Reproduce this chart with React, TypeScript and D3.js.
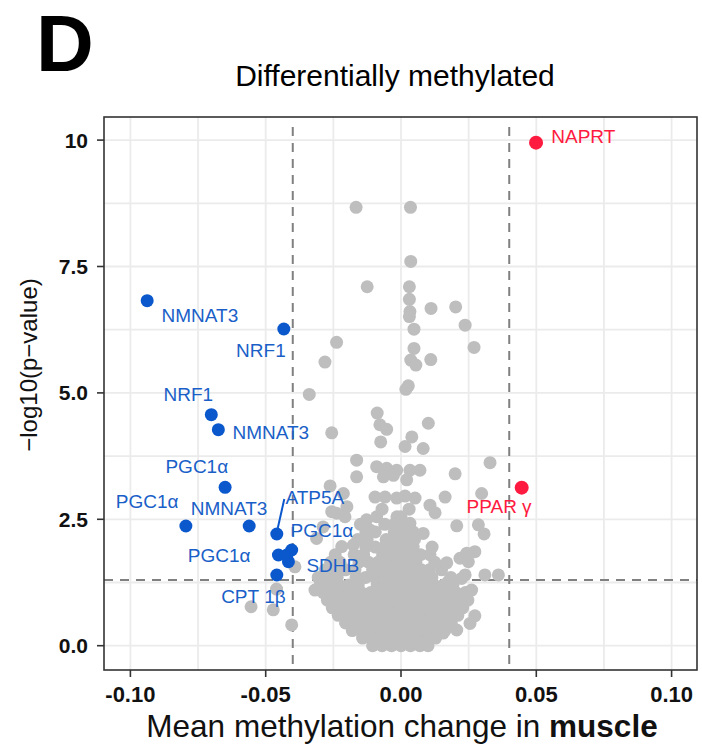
import React from "react";
import * as d3 from "d3";

// ---------- data ----------
const xTicks = [-0.1, -0.05, 0, 0.05, 0.1];
const xTickLabels = ["-0.10", "-0.05", "0.00", "0.05", "0.10"];
const yTicks = [0, 2.5, 5, 7.5, 10];
const yTickLabels = ["0.0", "2.5", "5.0", "7.5", "10"];
const xGrid = [-0.1, -0.075, -0.05, -0.025, 0, 0.025, 0.05, 0.075, 0.1];
const yGrid = [0, 1.25, 2.5, 3.75, 5, 6.25, 7.5, 8.75, 10];
const effectCutoffs = [-0.04, 0.04];
const pCutoff = 1.301;

// hypomethylated, significant (blue)
const downGenes = ["NMNAT3", "NRF1", "NRF1", "NMNAT3", "PGC1α", "PGC1α", "NMNAT3", "ATP5A", "PGC1α", "PGC1α", "SDHB", "", "CPT1β"];
const downX = [-0.0938, -0.0433, -0.0701, -0.0675, -0.065, -0.0795, -0.0561, -0.0459, -0.0453, -0.0404, -0.0416, -0.0422, -0.0459];
const downY = [6.824, 6.264, 4.569, 4.272, 3.133, 2.367, 2.367, 2.209, 1.794, 1.893, 1.661, 1.794, 1.398];

// hypermethylated, significant (red)
const upGenes = ["NAPRT", "PPARγ"];
const upX = [0.0499, 0.0446];
const upY = [9.95, 3.126];

// not significant (grey): scattered points
const scatterX = [
  -0.0166, 0.0035, 0.0036, -0.0125, 0.0031, 0.0031, 0.0033, 0.0031, 0.0111, 0.0202, 0.0237, 0.0048, 0.027, 0.0048, 0.0036, 0.0055, 0.011, 0.0027, 0.0018, -0.0238, -0.0281, -0.0339,
  -0.0088, -0.0078, -0.0053, -0.0256, 0.0101, 0.004, -0.0075, 0.0015, 0.0082, -0.0164, 0.0329, -0.009, -0.0053, -0.0016, 0.0033, 0.007, -0.0065, -0.0028, 0.0021, -0.0164, 0.02, -0.0262, 0.0298, 0.0163, -0.0213, -0.0096, -0.0059, -0.0016, 0.0015, 0.0052, 0.0107, 0.0126, -0.02, -0.0238, -0.0207, -0.0256, -0.0288, -0.0127, -0.0115, -0.0312, 0.0, 0.0033, 0.0082, 0.0206, 0.0286, 0.0307, -0.0219, -0.0176,
  0.0169, 0.0218, 0.0249, 0.0243, 0.0273, 0.0237, 0.0224, 0.031, 0.036, 0.0175, 0.0261, 0.023, 0.0243, 0.0273, 0.0255, 0.0206, 0.0156,
  -0.0392, -0.0318, -0.0404, -0.0472, -0.0554, -0.046,
];
const scatterY = [
  8.67, 8.67, 7.6, 7.1, 7.1, 6.85, 6.61, 6.51, 6.67, 6.7, 6.34, 6.26, 5.9, 5.88, 5.65, 5.55, 5.66, 5.14, 5.07, 6.0, 5.61, 4.97,
  4.6, 4.37, 4.28, 4.21, 4.4, 4.13, 4.03, 3.94, 3.9, 3.67, 3.62, 3.54, 3.51, 3.47, 3.47, 3.47, 3.34, 3.37, 3.28, 3.34, 3.4, 3.16, 3.01, 2.94, 3.01, 2.94, 2.94, 2.92, 2.96, 2.92, 2.78, 2.63, 2.75, 2.62, 2.55, 2.65, 2.35, 2.49, 2.29, 2.12, 2.55, 2.42, 2.22, 2.37, 2.39, 2.21, 1.96, 1.99,
  1.64, 1.73, 1.66, 1.83, 1.86, 1.4, 1.33, 1.4, 1.4, 1.27, 1.1, 1.0, 1.04, 0.59, 0.44, 0.31, 0.25,
  1.56, 1.1, 0.41, 0.71, 0.77, 1.12,
];

// not significant (grey): dense core, row by row
const coreRowY = [0.0, 0.15, 0.3, 0.45, 0.6, 0.75, 0.9, 1.05, 1.2, 1.35, 1.5, 1.65, 1.8, 1.95, 2.1, 2.25, 2.4, 2.55, 2.7];
const coreRowX = [
  [-0.0105, -0.007, -0.0035, 0.0, 0.0035, 0.007, 0.01],
  [-0.0142, -0.0108, -0.0073, -0.0038, -0.0003, 0.0032, 0.0067, 0.0098, 0.0128],
  [-0.018, -0.0145, -0.011, -0.0075, -0.004, -0.0005, 0.003, 0.0065, 0.01, 0.0132, 0.0162],
  [-0.0205, -0.017, -0.0135, -0.01, -0.0065, -0.003, 0.0005, 0.004, 0.0075, 0.011, 0.0145, 0.0186],
  [-0.0232, -0.0197, -0.0162, -0.0127, -0.0092, -0.0057, -0.0022, 0.0013, 0.0048, 0.0083, 0.0118, 0.0153, 0.0188, 0.021],
  [-0.0254, -0.0219, -0.0184, -0.0149, -0.0114, -0.0079, -0.0044, -0.0009, 0.0026, 0.0061, 0.0096, 0.0131, 0.0166, 0.02, 0.0228],
  [-0.0272, -0.0237, -0.0202, -0.0167, -0.0132, -0.0097, -0.0062, -0.0027, 0.0008, 0.0043, 0.0078, 0.0113, 0.0148, 0.0183, 0.0218, 0.0247],
  [-0.0287, -0.0252, -0.0217, -0.0182, -0.0147, -0.0112, -0.0077, -0.0042, -0.0007, 0.0028, 0.0063, 0.0098, 0.0133, 0.0168, 0.0203, 0.0238],
  [-0.0298, -0.0263, -0.0228, -0.0193, -0.0158, -0.0088, -0.0053, -0.0018, 0.0017, 0.0052, 0.0087, 0.0122, 0.0157, 0.0192],
  [-0.0306, -0.0271, -0.0236, -0.0166, -0.0131, -0.0096, -0.0061, -0.0026, 0.0009, 0.0044, 0.0079, 0.0114, 0.0184],
  [-0.028, -0.0245, -0.0205, -0.017, -0.0105, -0.007, -0.0035, 0.0, 0.0035, 0.0075, 0.0105, 0.015],
  [-0.026, -0.0225, -0.0155, -0.012, -0.0085, -0.005, -0.0015, 0.002, 0.0055, 0.0125],
  [-0.0243, -0.0173, -0.0138, -0.0068, -0.0033, 0.0002, 0.0037, 0.0072, 0.0107],
  [-0.013, -0.0095, -0.006, -0.0025, 0.001, 0.0045, 0.0115],
  [-0.016, -0.0125, -0.0055, -0.002, 0.0015, 0.005],
  [-0.013, -0.0095, -0.0025, 0.001, 0.0045],
  [-0.015, -0.006, -0.0025, 0.001],
  [-0.009, -0.0015],
  [-0.007, 0.003],
];

// ---------- layout (label offsets in px, relative to point) ----------
const downLabelDx = [52.7, -22.9, -23, 52.5, -28.3, -38.8, -20.1, 38, -59.3, 30.3, 44.4, 0, -23.4];
const downLabelDy = [21.6, 27.7, -13.7, 9.6, -14.3, -17.7, -11, -30, 6.7, -12.7, 10.6, 0, 27.7];
const upLabelDx = [47.3, -22.7];
const upLabelDy = [0.5, 25.6];

const BLUE = "#0a58cc";
const BLUE_TXT = "#1a5fc8";
const RED = "#ff1a40";
const GREY = "#bebebe";
const FONT = "'Liberation Sans', Arial, Helvetica, sans-serif";

export default function App() {
  const W = 702;
  const H = 747;
  const L = 104, R = 697, T = 117, B = 670;
  const x = d3.scaleLinear().domain([-0.1, 0.1]).range([130.4, 671.6]);
  const y = d3.scaleLinear().domain([0, 10]).range([645.7, 140.1]);
  const r = 6.5;

  const greyPts: [number, number][] = [];
  coreRowY.forEach((yy, i) => coreRowX[i].forEach((xx) => greyPts.push([xx, yy])));
  scatterX.forEach((xx, i) => greyPts.push([xx, scatterY[i]]));

  const labelText = (g: string) => {
    if (g === "CPT1β") {
      return (
        <>
          <tspan>CPT</tspan>
          <tspan dx={5}>1β</tspan>
        </>
      );
    }
    if (g === "PPARγ") {
      return (
        <>
          <tspan>PPAR</tspan>
          <tspan dx={5}>γ</tspan>
        </>
      );
    }
    return g;
  };

  return (
    <svg
      width={W}
      height={H}
      style={{ position: "absolute", left: 0, top: 0, background: "#fff" }}
      fontFamily={FONT}
    >
      <rect width={W} height={H} fill="#fff" />
      <text x={36} y={71} fontSize={80} fontWeight="bold" fill="#000">D</text>
      <text x={395} y={86} fontSize={30} textAnchor="middle" fill="#000">
        Differentially methylated
      </text>

      <defs>
        <clipPath id="panel">
          <rect x={L} y={T} width={R - L} height={B - T} />
        </clipPath>
      </defs>

      <g clipPath="url(#panel)">
        <rect x={L} y={T} width={R - L} height={B - T} fill="#fff" />
        {xGrid.map((v) => (
          <line key={"gx" + v} x1={x(v)} x2={x(v)} y1={T} y2={B} stroke="#ebebeb" strokeWidth={1.8} />
        ))}
        {yGrid.map((v) => (
          <line key={"gy" + v} x1={L} x2={R} y1={y(v)} y2={y(v)} stroke="#ebebeb" strokeWidth={1.8} />
        ))}
        {effectCutoffs.map((v) => (
          <line key={"vc" + v} x1={x(v)} x2={x(v)} y1={T + 10} y2={B} stroke="#808080" strokeWidth={2} strokeDasharray="9,7" />
        ))}
        <line x1={L} x2={R} y1={y(pCutoff)} y2={y(pCutoff)} stroke="#808080" strokeWidth={2} strokeDasharray="9,7" />

        {greyPts.map((p, i) => (
          <circle key={"g" + i} cx={x(p[0])} cy={y(p[1])} r={r} fill={GREY} />
        ))}
        {downX.map((v, i) => (
          <circle key={"d" + i} cx={x(v)} cy={y(downY[i])} r={r} fill={BLUE} />
        ))}
        {upX.map((v, i) => (
          <circle key={"u" + i} cx={x(v)} cy={y(upY[i])} r={r + 0.5} fill={RED} />
        ))}

        {/* ATP5A connector */}
        <line
          x1={x(downX[7]) + 1}
          y1={y(downY[7]) - 6}
          x2={x(downX[7]) + 7.5}
          y2={y(downY[7]) - 35}
          stroke={BLUE}
          strokeWidth={2}
        />

        {downGenes.map((g, i) =>
          g ? (
            <text
              key={"dl" + i}
              x={x(downX[i]) + downLabelDx[i]}
              y={y(downY[i]) + downLabelDy[i]}
              fontSize={19}
              textAnchor="middle"
              fill={BLUE_TXT}
            >
              {labelText(g)}
            </text>
          ) : null
        )}
        {upGenes.map((g, i) => (
          <text
            key={"ul" + i}
            x={x(upX[i]) + upLabelDx[i]}
            y={y(upY[i]) + upLabelDy[i]}
            fontSize={19}
            textAnchor="middle"
            fill={RED}
          >
            {labelText(g)}
          </text>
        ))}
      </g>

      <rect x={L} y={T} width={R - L} height={B - T} fill="none" stroke="#333" strokeWidth={1.6} />

      {xTicks.map((v, i) => (
        <g key={"xt" + i}>
          <line x1={x(v)} x2={x(v)} y1={B} y2={B + 7} stroke="#333" strokeWidth={1.6} />
          <text x={x(v)} y={702} fontSize={22} fontWeight="bold" textAnchor="middle" fill="#111">
            {xTickLabels[i]}
          </text>
        </g>
      ))}
      {yTicks.map((v, i) => (
        <g key={"yt" + i}>
          <line x1={L - 7} x2={L} y1={y(v)} y2={y(v)} stroke="#333" strokeWidth={1.6} />
          <text x={88} y={y(v) + 7.5} fontSize={21} fontWeight="bold" textAnchor="end" fill="#111">
            {yTickLabels[i]}
          </text>
        </g>
      ))}

      <text x={402} y={737} fontSize={31.5} textAnchor="middle" fill="#111">
        Mean methylation change in <tspan fontWeight="bold">muscle</tspan>
      </text>
      <text
        transform="translate(37,365) rotate(-90)"
        fontSize={24}
        textAnchor="middle"
        fill="#111"
      >
        −log10(p−value)
      </text>
    </svg>
  );
}
